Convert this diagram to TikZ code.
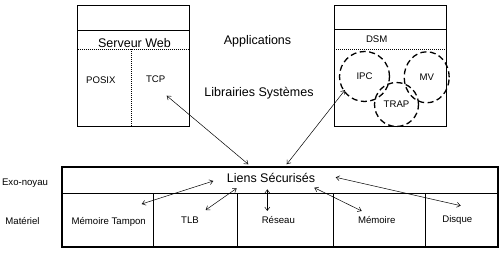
\documentclass[tikz,border=0pt]{standalone}
\usepackage{fontspec}
\setmainfont{Liberation Sans}
\usetikzlibrary{arrows.meta,shapes.geometric}
\begin{document}
\begin{tikzpicture}[x=1pt,y=-1pt,
  big/.style={font=\fontsize{12.5}{14}\selectfont, inner sep=0pt},
  small/.style={font=\fontsize{9.6}{11}\selectfont, inner sep=0pt},
  frame/.style={draw=black, line width=1.1pt},
  thickframe/.style={draw=black, line width=1.8pt},
  fine/.style={draw=black, line width=0.6pt},
  dots/.style={draw=black, line width=0.6pt, dash pattern=on 1pt off 1pt},
  bubble/.style={draw=black, line width=1.3pt, dash pattern=on 6pt off 3.5pt, inner sep=0pt, font=\fontsize{9.6}{11}\selectfont},
  link/.style={draw=black, line width=0.5pt, {Straight Barb[length=3.5pt,width=5pt]}-{Straight Barb[length=3.5pt,width=5pt]}}
]
\useasboundingbox (0,0) rectangle (500,253);
\fill[white] (0,0) rectangle (500,253);

% left box
\draw[frame] (77.7,5.7) rectangle (189.3,126.7);
\draw[frame] (77.7,30.7) -- (189.3,30.7);
\draw[dots] (77.7,49.3) -- (189.3,49.3);
\draw[dots] (131.7,49.3) -- (131.7,126.7);
\node[big] (web) at (134.5,42.7) {Serveur Web};
\node[small] (posix) at (100.8,80) {POSIX};
\node[small] (tcp) at (155.7,79) {TCP};

% right box
\draw[frame] (334.3,5.7) rectangle (446.7,126.7);
\draw[frame] (334.3,29.3) -- (446.7,29.3);
\draw[dots] (334.3,49.3) -- (446.7,49.3);
\node[small] (dsm) at (376.7,39.3) {DSM};
\node[bubble, circle, minimum size=50pt] (ipc) at (364.5,76.5) {IPC};
\node[bubble, ellipse, minimum width=45pt, minimum height=51pt] (mv) at (426.7,77.3) {MV};
\node[bubble, circle, minimum size=44pt] (trap) at (396.5,104.5) {TRAP};

% middle labels
\node[big] (apps) at (257.5,41.5) {Applications};
\node[big] (libs) at (259,93.3) {Librairies Systèmes};

% bottom box
\draw[thickframe] (61.7,166.7) rectangle (498.3,246.7);
\draw[fine] (61.7,193.3) -- (498.3,193.3);
\foreach \x in {153.3,237.3,333.3,425.7} \draw[fine] (\x,193.3) -- (\x,246.7);
\node[big] (liens) at (271,177.7) {Liens Sécurisés};
\node[small] (mt) at (108.7,221.7) {Mémoire Tampon};
\node[small] (tlb) at (190,220) {TLB};
\node[small] (res) at (278.3,220) {Réseau};
\node[small] (mem) at (376.7,220) {Mémoire};
\node[small] (disk) at (457.3,220) {Disque};
\node[small] (exo) at (25,182.7) {Exo-noyau};
\node[small] (mat) at (22.5,221) {Matériel};

% arrow end points
\coordinate (a1) at (345,90);   \coordinate (b1) at (286.7,164.3);
\coordinate (a2) at (166.7,95.7); \coordinate (b2) at (248.3,164.3);
\coordinate (a3) at (213.3,181); \coordinate (b3) at (141.7,204);
\coordinate (a4) at (236.7,188.3); \coordinate (b4) at (205.7,210);
\coordinate (a5) at (267.3,189.3); \coordinate (b5) at (267.3,211);
\coordinate (a6) at (314.3,187.7); \coordinate (b6) at (361.7,211);
\coordinate (a7) at (335.7,177.3); \coordinate (b7) at (460.7,205.7);

\draw[link] (a1) -- (b1);
\draw[link] (a2) -- (b2);
\draw[link] (a3) -- (b3);
\draw[link] (a4) -- (b4);
\draw[link] (a5) -- (b5);
\draw[link] (a6) -- (b6);
\draw[link] (a7) -- (b7);
\end{tikzpicture}
\end{document}
